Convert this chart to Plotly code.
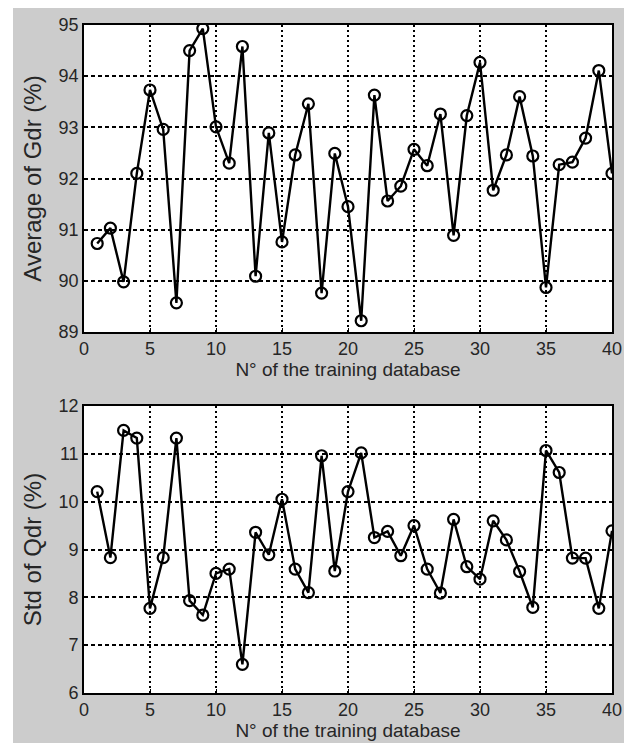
import plotly.graph_objects as go
from plotly.subplots import make_subplots

db_index = list(range(1, 41))
avg_gdr = [90.73, 91.03, 89.98, 92.10, 93.73, 92.96, 89.57, 94.50, 94.93, 93.01,
           92.30, 94.58, 90.09, 92.89, 90.76, 92.46, 93.46, 89.76, 92.49, 91.45,
           89.22, 93.63, 91.56, 91.85, 92.57, 92.25, 93.26, 90.89, 93.23, 94.27,
           91.77, 92.46, 93.60, 92.44, 89.87, 92.27, 92.32, 92.79, 94.11, 92.10]
std_qdr = [10.21, 8.83, 11.49, 11.33, 7.77, 8.83, 11.33, 7.93, 7.63, 8.50,
           8.59, 6.60, 9.36, 8.89, 10.05, 8.59, 8.10, 10.96, 8.55, 10.21,
           11.02, 9.25, 9.38, 8.87, 9.50, 8.59, 8.09, 9.63, 8.64, 8.38,
           9.60, 9.20, 8.54, 7.79, 11.07, 10.61, 8.82, 8.82, 7.77, 9.39]
x_ticks = [0, 5, 10, 15, 20, 25, 30, 35, 40]
y1_ticks = [89, 90, 91, 92, 93, 94, 95]
y2_ticks = [6, 7, 8, 9, 10, 11, 12]

# page body adds an 8px margin, so the figure is drawn 8px in from the corner
W, H = 624, 735
L, R, T, B = 76, 20, 17, 50
PW, PH = W - L - R, H - T - B

fig = make_subplots(rows=2, cols=1)

for r, ys in ((1, avg_gdr), (2, std_qdr)):
    fig.add_trace(go.Scatter(
        x=db_index, y=ys, mode="lines+markers",
        line=dict(color="black", width=2.4),
        marker=dict(symbol="circle-open", size=11, color="black", line=dict(width=2.2)),
        showlegend=False), row=r, col=1)

font_fam = "Liberation Sans, Arial, sans-serif"
txt = "#262626"
tick_font = dict(family=font_fam, size=18, color=txt)
common_x = dict(range=[0, 40], tickvals=x_ticks, showgrid=True, gridcolor="black",
                griddash="2px,3px", gridwidth=1.6, showline=True, linecolor="black",
                linewidth=1.6, mirror=True, ticks="inside", ticklen=4,
                tickcolor="black", tickfont=tick_font, zeroline=False)
common_y = dict(showgrid=True, gridcolor="black", griddash="4px,3px", gridwidth=1.6,
                showline=True, linecolor="black", linewidth=1.6, mirror=True,
                ticks="inside", ticklen=4, tickcolor="black", tickfont=tick_font,
                zeroline=False)

title_x_font = dict(family=font_fam, size=19, color=txt)
title_y_font = dict(family=font_fam, size=24, color=txt)

fig.update_xaxes(**common_x)
fig.update_yaxes(**common_y)
for r in (1, 2):
    fig.update_xaxes(title=dict(text="N° of the training database", font=title_x_font, standoff=0), row=r, col=1)
fig.update_yaxes(range=[89, 95], tickvals=y1_ticks,
                 title=dict(text="Average of Gdr (%)", font=title_y_font, standoff=10), row=1, col=1)
fig.update_yaxes(range=[6, 12], tickvals=y2_ticks,
                 title=dict(text="Std of Qdr (%)", font=title_y_font, standoff=10), row=2, col=1)

fig.update_layout(
    yaxis=dict(domain=[(685 - 324) / PH, 1]),
    yaxis2=dict(domain=[0, (685 - 398) / PH]),
)

fig.update_layout(
    width=W, height=H,
    margin=dict(l=L, r=R, t=T, b=B, autoexpand=False),
    paper_bgcolor="#cccccc", plot_bgcolor="white",
    font=dict(family=font_fam),
    shapes=[
        dict(type="rect", xref="paper", yref="paper", layer="above",
             x0=-L / PW, x1=(5 - L) / PW, y0=-B / PH - 0.05, y1=(H - B) / PH + 0.05,
             fillcolor="white", line=dict(width=0)),
    ],
)

fig.write_html("out.html")
